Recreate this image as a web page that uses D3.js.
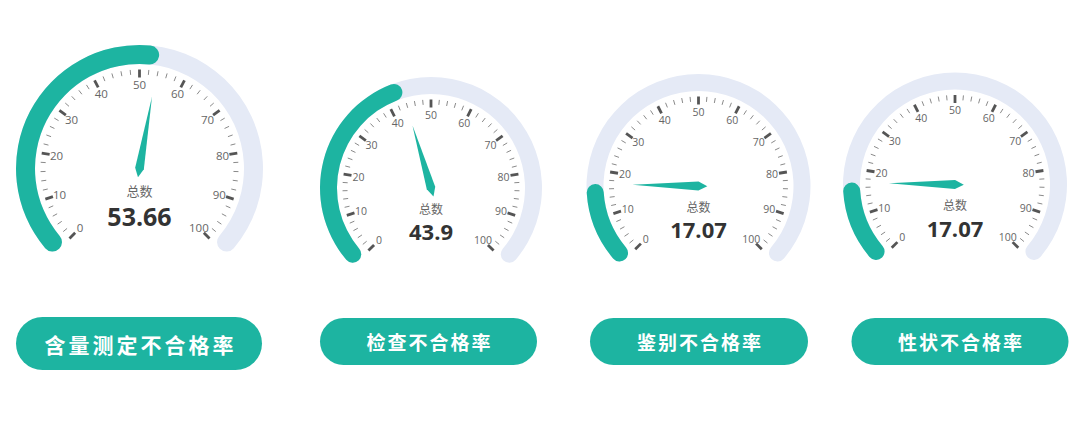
<!DOCTYPE html>
<html>
<head>
<meta charset="utf-8">
<script src="https://cdn.jsdelivr.net/npm/d3@7"></script>
<style>
  html, body { margin: 0; padding: 0; background: #fff; }
  svg { display: block; }
</style>
</head>
<body>
<div id="chart"></div>
<script>
// data
var names = ["含量测定不合格率", "检查不合格率", "鉴别不合格率", "性状不合格率"];
var values = [53.66, 43.9, 17.07, 17.07];
var tickLabels = [0, 10, 20, 30, 40, 50, 60, 70, 80, 90, 100];
var centerTitle = "总数";

// layout for each gauge (position, radius, band width, font sizes)
var gauges = [
    {cx: 139.5, cy: 168.5, r: 123.5, band: 19, valSize: 25, titleSize: 13, titleDy: 21.5, valDy: 57, lblSize: 11.5},
    {cx: 431, cy: 188, r: 111, band: 17, valSize: 22, titleSize: 12, titleDy: 20, valDy: 52, lblSize: 10.5},
    {cx: 698.5, cy: 186, r: 112, band: 17, valSize: 22, titleSize: 12, titleDy: 20, valDy: 52, lblSize: 10.5},
    {cx: 955, cy: 184.5, r: 112, band: 17, valSize: 22, titleSize: 12, titleDy: 20, valDy: 52, lblSize: 10.5}
];
var pills = [
    {x: 16, y: 317, w: 246, h: 53, size: 21, sp: 3},
    {x: 320, y: 318, w: 217, h: 47, size: 19, sp: 2},
    {x: 590, y: 318, w: 218, h: 47, size: 19, sp: 2},
    {x: 851.5, y: 318, w: 217, h: 47, size: 19, sp: 2}
];

var teal = "#1db4a1";
var track = "#e5eaf6";
var width = 1080, height = 437;

var svg = d3.select("#chart").append("svg")
    .attr("width", width)
    .attr("height", height);

// value -> angle (d3.arc convention, clockwise from 12 o'clock)
var angle = d3.scaleLinear().domain([0, 100]).range([-3 * Math.PI / 4, 3 * Math.PI / 4]);

function pt(a, rad) {
    return [rad * Math.sin(a), -rad * Math.cos(a)];
}

gauges.forEach(function (g, i) {
    var v = values[i];
    var grp = svg.append("g").attr("transform", "translate(" + g.cx + "," + g.cy + ")");
    var arc = d3.arc()
        .innerRadius(g.r - g.band)
        .outerRadius(g.r)
        .cornerRadius(g.band / 2);

    grp.append("path")
        .attr("d", arc({startAngle: angle(0), endAngle: angle(100)}))
        .attr("fill", track);
    grp.append("path")
        .attr("d", arc({startAngle: angle(0), endAngle: angle(v)}))
        .attr("fill", teal);

    // ticks
    var tOut = g.r - g.band - 5.5;
    var ticks = d3.range(0, 101, 2);
    grp.selectAll("line.tick").data(ticks).enter().append("line")
        .attr("class", "tick")
        .each(function (t) {
            var major = t % 10 === 0;
            var a = angle(t);
            var p1 = pt(a, tOut), p2 = pt(a, tOut - (major ? 8 : 5));
            d3.select(this)
                .attr("x1", p1[0]).attr("y1", p1[1])
                .attr("x2", p2[0]).attr("y2", p2[1])
                .attr("stroke", major ? "#555" : "#8a8a8a")
                .attr("stroke-width", major ? 2.8 : 1);
        });

    var lblR = g.r - g.band - 20.5;
    grp.selectAll("text.lbl").data(tickLabels).enter().append("text")
        .attr("class", "lbl")
        .attr("x", function (t) { return pt(angle(t), lblR)[0]; })
        .attr("y", function (t) { return pt(angle(t), lblR)[1]; })
        .attr("text-anchor", "middle")
        .attr("dominant-baseline", "central")
        .attr("font-family", "'Open Sans', 'Noto Sans', sans-serif")
        .attr("font-size", g.lblSize)
        .attr("fill", "#666")
        .text(function (t) { return t; });

    // needle (kite shape, tail past centre)
    var nl = g.r * 0.59, nw = 4.4;
    var a = angle(v);
    var tip = pt(a, nl), tail = pt(a, -2 * nw);
    var s1 = pt(a + Math.PI / 2, nw), s2 = pt(a - Math.PI / 2, nw);
    grp.append("path")
        .attr("d", "M" + tail + "L" + s1 + "L" + tip + "L" + s2 + "Z")
        .attr("fill", teal);

    grp.append("text")
        .attr("y", g.titleDy)
        .attr("text-anchor", "middle")
        .attr("dominant-baseline", "central")
        .attr("font-family", "'Noto Sans CJK SC', sans-serif")
        .attr("font-size", g.titleSize)
        .attr("fill", "#666")
        .text(centerTitle);
    grp.append("text")
        .attr("y", g.valDy)
        .attr("text-anchor", "middle")
        .attr("font-family", "'Open Sans', 'Noto Sans', sans-serif")
        .attr("font-weight", "bold")
        .attr("font-size", g.valSize)
        .attr("fill", "#333")
        .text(v);
});

// bottom name buttons
var pg = svg.selectAll("g.pill").data(pills).enter().append("g").attr("class", "pill");
pg.append("rect")
    .attr("x", function (p) { return p.x; })
    .attr("y", function (p) { return p.y; })
    .attr("width", function (p) { return p.w; })
    .attr("height", function (p) { return p.h; })
    .attr("rx", function (p) { return p.h / 2; })
    .attr("fill", teal);
pg.append("text")
    .attr("x", function (p) { return p.x + p.w / 2 + p.sp / 2; })
    .attr("y", function (p) { return p.y + p.h / 2; })
    .attr("text-anchor", "middle")
    .attr("dominant-baseline", "central")
    .attr("font-family", "'Noto Sans CJK SC', sans-serif")
    .attr("font-weight", "bold")
    .attr("font-size", function (p) { return p.size; })
    .attr("letter-spacing", function (p) { return p.sp; })
    .attr("fill", "#fff")
    .text(function (p, i) { return names[i]; });
</script>
</body>
</html>
